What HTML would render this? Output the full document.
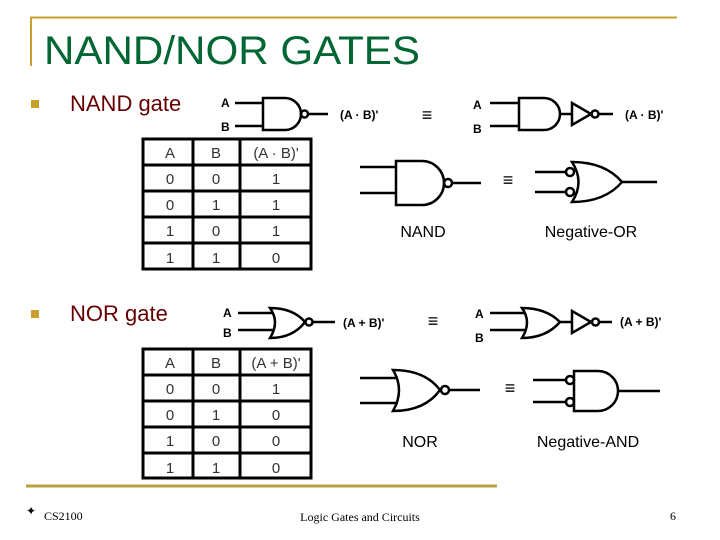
<!DOCTYPE html>
<html><head><meta charset="utf-8"><style>
html,body{margin:0;padding:0;background:#fff}
svg{display:block}
.t{font-family:"Liberation Sans",sans-serif}
.s{font-family:"Liberation Serif",serif}
</style></head><body>
<svg width="720" height="540" viewBox="0 0 720 540" xmlns="http://www.w3.org/2000/svg">
<rect width="720" height="540" fill="#fff"/>
<line x1="30" y1="17.5" x2="677" y2="17.5" stroke="#c8a030" stroke-width="2"/>
<line x1="31" y1="17" x2="31" y2="66" stroke="#c8a030" stroke-width="2"/>
<line x1="26" y1="486" x2="497" y2="486" stroke="#b8a03a" stroke-width="3"/>
<text x="44" y="64" class="t" font-size="40" fill="#006633" textLength="376" lengthAdjust="spacingAndGlyphs">NAND/NOR GATES</text>
<rect x="31" y="100" width="8" height="8" fill="#c8a030"/>
<rect x="31" y="310" width="8" height="8" fill="#c8a030"/>
<text x="70" y="111" class="t" font-size="22" fill="#660000">NAND gate</text>
<text x="70" y="321" class="t" font-size="22" fill="#660000">NOR gate</text>

<g fill="none" stroke="#000" stroke-width="3">
<rect x="143" y="139" width="168" height="130"/>
<line x1="143" y1="165" x2="311" y2="165"/><line x1="143" y1="191" x2="311" y2="191"/>
<line x1="143" y1="217" x2="311" y2="217"/><line x1="143" y1="243" x2="311" y2="243"/>
<line x1="193" y1="139" x2="193" y2="269"/><line x1="240" y1="139" x2="240" y2="269"/>
<rect x="143" y="349" width="168" height="129"/>
<line x1="143" y1="375" x2="311" y2="375"/><line x1="143" y1="401" x2="311" y2="401"/>
<line x1="143" y1="427" x2="311" y2="427"/><line x1="143" y1="453" x2="311" y2="453"/>
<line x1="193" y1="349" x2="193" y2="478"/><line x1="240" y1="349" x2="240" y2="478"/>
</g>
<g class="t" font-size="15" fill="#333" text-anchor="middle">
<text x="170" y="158">A</text><text x="216" y="158">B</text><text x="276" y="158">(A · B)'</text>
<text x="170" y="184">0</text><text x="216" y="184">0</text><text x="276" y="184">1</text>
<text x="170" y="210">0</text><text x="216" y="210">1</text><text x="276" y="210">1</text>
<text x="170" y="236">1</text><text x="216" y="236">0</text><text x="276" y="236">1</text>
<text x="170" y="263">1</text><text x="216" y="263">1</text><text x="276" y="263">0</text>
<text x="170" y="368">A</text><text x="216" y="368">B</text><text x="276" y="368">(A + B)'</text>
<text x="170" y="394">0</text><text x="216" y="394">0</text><text x="276" y="394">1</text>
<text x="170" y="420">0</text><text x="216" y="420">1</text><text x="276" y="420">0</text>
<text x="170" y="446">1</text><text x="216" y="446">0</text><text x="276" y="446">0</text>
<text x="170" y="473">1</text><text x="216" y="473">1</text><text x="276" y="473">0</text>
</g>

<g fill="none" stroke="#000" stroke-width="2.5">
<line x1="235" y1="103" x2="263" y2="103"/><line x1="235" y1="126" x2="263" y2="126"/>
<path d="M263 98 H285 A16 16 0 0 1 285 130 H263 Z"/>
<circle cx="304.5" cy="114" r="3.5"/><line x1="308" y1="114" x2="328" y2="114"/>
<line x1="490" y1="103" x2="519" y2="103"/><line x1="490" y1="126" x2="519" y2="126"/>
<path d="M519 98 H544 A16 16 0 0 1 544 130 H519 Z"/>
<line x1="560" y1="114" x2="572" y2="114"/>
<path d="M572 103 L591 114 L572 125 Z"/>
<circle cx="595" cy="114" r="3.5"/><line x1="598.5" y1="114" x2="613" y2="114"/>
<line x1="360" y1="167" x2="396" y2="167"/><line x1="360" y1="193" x2="396" y2="193"/>
<path d="M396 161 H422 A22 22 0 0 1 422 205 H396 Z"/>
<circle cx="448" cy="183" r="4"/><line x1="452" y1="183" x2="481" y2="183"/>
<line x1="535" y1="172" x2="566" y2="172"/><line x1="535" y1="192" x2="566" y2="192"/>
<circle cx="570" cy="172" r="4"/><circle cx="570" cy="192" r="4"/>
<path d="M572 162 Q585 182 572 202 Q605 202 622 182 Q605 162 572 162 Z"/>
<line x1="622" y1="182" x2="657" y2="182"/>
<line x1="238" y1="313" x2="273" y2="313"/><line x1="238" y1="330" x2="273" y2="330"/>
<path d="M270 308 Q280 322 270 338 Q293 338 305 322 Q293 308 270 308 Z"/>
<circle cx="309" cy="322" r="3.5"/><line x1="312.5" y1="322" x2="335" y2="322"/>
<line x1="490" y1="313" x2="525" y2="313"/><line x1="490" y1="330" x2="525" y2="330"/>
<path d="M522 308 Q532 322 522 338 Q546 338 560 322 Q546 308 522 308 Z"/>
<line x1="560" y1="322" x2="572" y2="322"/>
<path d="M572 311 L591 322 L572 333 Z"/>
<circle cx="595.5" cy="322" r="3.5"/><line x1="599" y1="322" x2="612" y2="322"/>
<line x1="360" y1="378" x2="398" y2="378"/><line x1="360" y1="403" x2="398" y2="403"/>
<path d="M393 370 Q405 390 393 411 Q425 411 440 390 Q425 370 393 370 Z"/>
<circle cx="445" cy="390" r="4"/><line x1="449" y1="390" x2="480" y2="390"/>
<line x1="533" y1="380" x2="566" y2="380"/><line x1="533" y1="402" x2="566" y2="402"/>
<circle cx="570" cy="380" r="4"/><circle cx="570" cy="402" r="4"/>
<path d="M574 371 H598 A20 20 0 0 1 598 411 H574 Z"/>
<line x1="618" y1="391" x2="660" y2="391"/>
</g>

<g class="t" font-size="12" font-weight="bold" fill="#000">
<text x="221" y="107">A</text><text x="221" y="131">B</text>
<text x="340" y="119">(A · B)'</text>
<text x="473" y="109">A</text><text x="473" y="133">B</text>
<text x="625" y="119">(A · B)'</text>
<text x="223" y="317">A</text><text x="223" y="337">B</text>
<text x="343" y="327">(A + B)'</text>
<text x="475" y="318">A</text><text x="475" y="342">B</text>
<text x="620" y="326">(A + B)'</text>
</g>
<g class="t" font-size="18" font-weight="bold" fill="#000" text-anchor="middle">
<text x="427" y="121">≡</text><text x="508" y="186">≡</text>
<text x="433" y="327">≡</text><text x="510" y="394">≡</text>
</g>
<g class="t" font-size="16" fill="#000" text-anchor="middle">
<text x="423" y="237">NAND</text><text x="591" y="237">Negative-OR</text>
<text x="420" y="447">NOR</text><text x="588" y="447">Negative-AND</text>
</g>
<text x="26" y="515" class="t" font-size="12" fill="#000">✦</text>
<text x="44" y="520" class="s" font-size="12" fill="#000">CS2100</text>
<text x="360" y="521" class="s" font-size="12" fill="#000" text-anchor="middle">Logic Gates and Circuits</text>
<text x="673" y="520" class="s" font-size="12" fill="#000" text-anchor="middle">6</text>
</svg>
</body></html>
